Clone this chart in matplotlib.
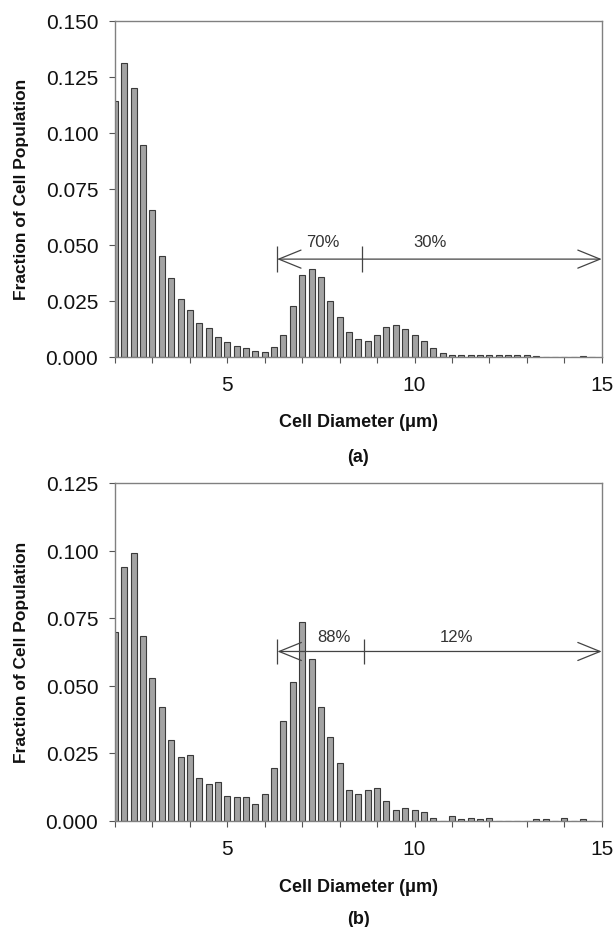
import numpy as np
import matplotlib
matplotlib.use("Agg")
import matplotlib.pyplot as plt

plt.rcParams['font.family'] = ['Liberation Sans', 'DejaVu Sans']

# ---- data -------------------------------------------------------------
diam = [2.0, 2.25, 2.5, 2.75, 3.0, 3.25, 3.5, 3.75, 4.0, 4.25, 4.5, 4.75,
        5.0, 5.25, 5.5, 5.75, 6.0, 6.25, 6.5, 6.75, 7.0, 7.25, 7.5, 7.75,
        8.0, 8.25, 8.5, 8.75, 9.0, 9.25, 9.5, 9.75, 10.0, 10.25, 10.5, 10.75,
        11.0, 11.25, 11.5, 11.75, 12.0, 12.25, 12.5, 12.75, 13.0, 13.25, 13.5,
        13.75, 14.0, 14.25, 14.5, 14.75]

frac_a = [0.114, 0.131, 0.120, 0.0944, 0.0655, 0.0450, 0.0350, 0.0257, 0.0208,
          0.0150, 0.0126, 0.0089, 0.0066, 0.0048, 0.0037, 0.0026, 0.0021, 0.0041,
          0.0097, 0.0227, 0.0365, 0.0391, 0.0353, 0.0248, 0.0176, 0.0108, 0.0077,
          0.0071, 0.0096, 0.0133, 0.0139, 0.0124, 0.0095, 0.0068, 0.0039, 0.0017,
          0.0008, 0.0006, 0.0005, 0.0005, 0.0005, 0.0005, 0.0005, 0.0005, 0.0005,
          0.0004, 0.0, 0.0, 0.0, 0.0, 0.0003, 0.0]

frac_b = [0.0698, 0.0939, 0.0991, 0.0685, 0.0529, 0.0420, 0.0300, 0.0234, 0.0243,
          0.0156, 0.0135, 0.0144, 0.0092, 0.0087, 0.0087, 0.0061, 0.0098, 0.0193,
          0.0367, 0.0513, 0.0735, 0.0599, 0.0420, 0.0311, 0.0213, 0.0114, 0.0098,
          0.0114, 0.0119, 0.0073, 0.0040, 0.0045, 0.0040, 0.0030, 0.0009, 0.0,
          0.0018, 0.0006, 0.0008, 0.0006, 0.0009, 0.0, 0.0, 0.0, 0.0, 0.0006,
          0.0006, 0.0, 0.0011, 0.0, 0.0005, 0.0]

# annotation ranges: (left end, split, right end), label texts
range_a = [6.33, 8.6, 15.0]
labels_a = ["70%", "30%"]
range_b = [6.34, 8.65, 15.0]
labels_b = ["88%", "12%"]

yticks_a = [0.000, 0.025, 0.050, 0.075, 0.100, 0.125, 0.150]
yticks_b = [0.000, 0.025, 0.050, 0.075, 0.100, 0.125]
xtick_labels = {5: "5", 10: "10", 15: "15"}

# ---- figure -----------------------------------------------------------
W, H = 616, 928
fig = plt.figure(figsize=(W / 100, H / 100), dpi=100)

axL, axR = 115 / W, 601.7 / W
ax_a = fig.add_axes([axL, 1 - 357.5 / H, axR - axL, (357.5 - 21.7) / H])
ax_b = fig.add_axes([axL, 1 - 821.5 / H, axR - axL, (821.5 - 484) / H])

BAR_FC = '#a3a3a3'
BAR_EC = '#3a3a3a'
SPINE = '#808080'


def style_axes(ax, yticks):
    ax.set_xlim(2, 15)
    ax.set_ylim(yticks[0], yticks[-1])
    ax.set_yticks(yticks)
    ax.set_yticklabels([f"{v:.3f}" for v in yticks])
    xt = list(range(2, 16))
    ax.set_xticks(xt)
    ax.set_xticklabels([xtick_labels.get(t, "") for t in xt])
    for s in ax.spines.values():
        s.set_color(SPINE)
        s.set_linewidth(1.0)
    ax.tick_params(axis='both', direction='out', length=4, width=0.8,
                   color='#555555', labelsize=15, labelcolor='#111111')
    ax.tick_params(axis='x', pad=9)
    ax.tick_params(axis='y', pad=8)


def draw_range(ax, rng, labels, y, dy, ytext, xtext):
    x0, xm, x1 = rng
    ax.annotate('', xy=(x1, y), xytext=(x0, y),
                arrowprops=dict(arrowstyle='<->,head_length=1.6,head_width=0.65',
                                lw=0.9, color='#444444', shrinkA=0, shrinkB=0,
                                mutation_scale=10))
    for xv in (x0, xm):
        ax.plot([xv, xv], [y - dy, y + dy], color='#444444', lw=0.9,
                solid_capstyle='butt')
    for lab, xt in zip(labels, xtext):
        ax.text(xt, ytext, lab, ha='center', va='center', fontsize=12,
                color='#333333')


for ax, frac, yt in ((ax_a, frac_a, yticks_a), (ax_b, frac_b, yticks_b)):
    ax.bar(diam, frac, width=0.16, color=BAR_FC, edgecolor=BAR_EC,
           linewidth=0.8, align='center')
    style_axes(ax, yt)

draw_range(ax_a, range_a, labels_a, 0.0435, 0.0058, 0.0512, [7.55, 10.42])
draw_range(ax_b, range_b, labels_b, 0.0626, 0.0048, 0.0683, [7.84, 11.12])

# axis titles and panel captions
cx = (axL + axR) / 2
for ytop, ybot, cap_y, lab_y, cap in ((21.7, 357.5, 457, 423, "(a)"),
                                       (484, 821.5, 920, 888, "(b)")):
    fig.text(21.7 / W, 1 - (ytop + ybot) / 2 / H, "Fraction of Cell Population",
             rotation=90, ha='center', va='center', fontsize=12.5,
             fontweight='bold', color='#111111')
    fig.text(cx, 1 - lab_y / H, "Cell Diameter (\u03bcm)", ha='center',
             va='center', fontsize=13, fontweight='bold', color='#111111')
    fig.text(cx, 1 - cap_y / H, cap, ha='center', va='center', fontsize=13,
             fontweight='bold', color='#111111')

fig.savefig("out.png", dpi=100, facecolor='white')
